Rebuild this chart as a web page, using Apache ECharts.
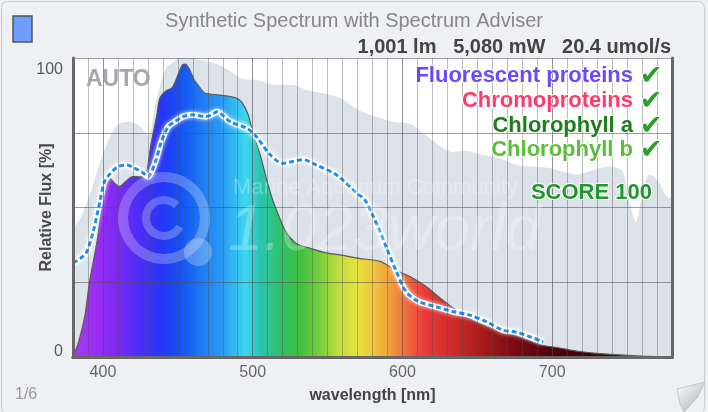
<!DOCTYPE html>
<html>
<head>
<meta charset="utf-8">
<script src="https://cdn.jsdelivr.net/npm/echarts@6/dist/echarts.min.js"></script>
<style>
  html, body { margin: 0; padding: 0; background: #fff; }
  #chart { width: 708px; height: 412px; }
</style>
</head>
<body>
<div id="chart"></div>
<script>
// synthetic spectrum (coloured area)
var specNm = [380, 384, 388, 391, 396, 399, 401, 404, 408, 411, 415, 420, 426, 429, 432, 436, 438, 442, 446, 449,
    453, 455, 458, 461, 465, 468, 478, 489, 493, 497, 500, 505, 509, 513, 518, 522, 529, 538, 549, 560,
    571, 585, 593, 600, 605, 616, 627, 638, 649, 660, 669, 678, 685, 693, 705, 716, 730, 745, 760, 780];
var specVal = [0, 5.5, 14, 25, 38.6, 50, 57.5, 60, 58, 57, 58.6, 60.3, 60.3, 61.5, 71, 81, 86.6, 89, 90, 93,
    97.7, 98, 96, 92.6, 90, 88.3, 87.6, 86.6, 85, 81, 75.4, 67.6, 60, 53, 46.5, 42, 38, 36.4, 34.8, 34,
    33, 32, 29.8, 28, 26.9, 23.5, 19, 15, 11.8, 9.7, 8.5, 6.8, 5.5, 4, 3, 2, 1.2, 0.7, 0.3, 0];

// spectrum adviser target (dashed line)
var targetNm = [380, 385, 389, 393.5, 398, 401, 405, 410, 416, 421, 427, 430, 435, 439, 443.5, 448, 453.5, 460, 469, 474,
    476, 485, 496, 502.5, 511, 520, 533.5, 542.5, 556, 569, 575, 580, 585, 589, 596, 602.5, 611, 622.5, 633.5, 645,
    656, 667, 676, 684, 694];
var targetVal = [31.4, 33, 35, 42, 52, 58.6, 61.4, 63.7, 64.2, 63.2, 61.5, 60.3, 65.3, 72, 77, 78.7, 80.4, 81, 80.4, 81.5,
    82, 78.7, 76.5, 73.7, 68, 64.8, 66, 64.2, 60.9, 55, 52.5, 47.5, 42, 37, 28.5, 21.8, 18.5, 16.8, 15.2, 14,
    11.8, 9, 8.3, 7, 5.1];

// grey background reference
var refNm = [380, 385, 391, 398, 405, 411, 418, 425, 430, 436, 442, 447, 451, 458, 465, 476, 487, 493, 503, 516,
    526, 538, 550, 560, 571, 582, 593, 605, 616, 627, 633, 642, 653, 665, 676, 685, 698, 707, 716, 727,
    738, 747, 751, 756, 760, 765, 771, 776, 780];
var refVal = [43, 46.5, 54, 65, 74, 78, 78.7, 77, 74, 86.5, 96.5, 98.7, 100, 100, 99.3, 98, 95, 93, 92.6, 91,
    91, 89, 88, 86.3, 82.5, 80.4, 78.7, 78, 74, 70, 68.6, 69, 67.6, 66.4, 64.2, 63.7, 63.2, 62, 61, 62.5,
    63.7, 62, 53, 45.2, 54, 61, 58.6, 54, 53];

// colour of light per wavelength
var colorNm = [380, 395, 410, 425, 440, 452, 465, 480, 495, 505, 520, 532, 545, 558, 570, 582, 593, 603, 615, 635, 655, 675, 700, 780];
var colorHex = ['#a63cf2', '#9a2ef2', '#7a2af4', '#4a2ef6', '#2438f6', '#1452f4', '#1f78f0', '#2a9cf2', '#3ed6f0', '#2cc4b0',
    '#32c064', '#40c040', '#7ace3c', '#c4dc40', '#e6e23e', '#f0c03c', '#f09a3c', '#f0683c', '#e83a3a', '#cc2a2a', '#a41a1a', '#7a0c12', '#4c0208', '#2e0006'];

var xTicks = [400, 500, 600, 700];
var yTicks = [0, 100];

function pairs(xs, ys) {
    var out = [];
    for (var i = 0; i < xs.length; i++) out.push([xs[i], ys[i]]);
    return out;
}

var stops = colorNm.map(function (nm, i) {
    return { offset: (nm - 380) / 400, color: colorHex[i] };
});

var minorCol = 'rgba(80,80,80,0.38)';
var majorCol = 'rgba(80,80,80,0.62)';
var splitColors = [];
for (var i = 0; i < 10; i++) splitColors.push(i === 2 ? majorCol : minorCol);

var chart = echarts.init(document.getElementById('chart'));
var font = '"Liberation Sans", Arial, sans-serif';

function label(text, y, color) {
    return { type: 'text', x: 633, y: y, style: { text: text, fill: color, font: 'bold 22px ' + font, align: 'right', verticalAlign: 'middle', stroke: '#fff', lineWidth: 2 }, z: 10 };
}
function tick(y) {
    return { type: 'text', x: 651, y: y, style: { text: '✔', fill: '#2a9e2a', font: 'bold 27px "DejaVu Sans"', align: 'center', verticalAlign: 'middle', stroke: '#fff', lineWidth: 2 }, z: 10 };
}

var option = {
    backgroundColor: '#eef0f3',
    animation: false,
    title: [{
        text: 'Synthetic Spectrum with Spectrum Adviser',
        left: 'center',
        top: 6,
        textStyle: { color: '#878787', fontSize: 20, fontWeight: 'normal', fontFamily: font }
    }, {
        text: '1,001 lm   5,080 mW   20.4 umol/s',
        right: 32,
        top: 32,
        textStyle: { color: '#444', fontSize: 20, fontWeight: 'bold', fontFamily: font }
    }],
    grid: {
        left: 73, top: 58, width: 599, height: 299,
        show: true, backgroundColor: '#ffffff', borderWidth: 0
    },
    xAxis: [{
        type: 'value', min: 380, max: 780, interval: 10, z: 5,
        name: 'wavelength [nm]', nameLocation: 'middle', nameGap: 31,
        nameTextStyle: { color: '#444', fontSize: 16, fontWeight: 'bold', fontFamily: font },
        axisLine: { show: true, lineStyle: { color: '#676767', width: 3 } },
        axisTick: { show: false },
        axisLabel: {
            margin: 8, color: '#666', fontSize: 16, fontFamily: font,
            formatter: function (v) { return xTicks.indexOf(v) >= 0 ? String(v) : ''; }
        },
        splitLine: { show: true, lineStyle: { color: splitColors, width: 1 } }
    }, {
        type: 'value', min: 380, max: 780, position: 'top', z: 5,
        axisLine: { show: true, lineStyle: { color: '#676767', width: 3 } },
        axisTick: { show: false }, axisLabel: { show: false }, splitLine: { show: false }
    }],
    yAxis: [{
        type: 'value', min: 0, max: 100, interval: 25, z: 5,
        name: 'Relative Flux [%]', nameLocation: 'middle', nameGap: 18, nameMoveOverlap: false,
        nameTextStyle: { color: '#4a4a4a', fontSize: 16, fontWeight: 'bold', fontFamily: font },
        axisLine: { show: true, lineStyle: { color: '#676767', width: 3 } },
        axisTick: { show: false },
        axisLabel: {
            margin: 10, color: '#5a5a5a', fontSize: 16, fontFamily: font,
            formatter: function (v) {
                if (v === yTicks[1]) return '{t|' + v + '}';
                if (v === yTicks[0]) return '{b|' + v + '}';
                return '';
            },
            rich: {
                t: { padding: [24, 0, 0, 0], color: '#5a5a5a', fontSize: 16, fontFamily: font },
                b: { padding: [0, 0, 10, 0], color: '#5a5a5a', fontSize: 16, fontFamily: font }
            }
        },
        splitLine: { show: true, lineStyle: { color: 'rgba(80,80,80,0.55)', width: 1 } }
    }, {
        type: 'value', min: 0, max: 100, position: 'right', z: 5,
        axisLine: { show: true, lineStyle: { color: '#676767', width: 3 } },
        axisTick: { show: false }, axisLabel: { show: false }, splitLine: { show: false }
    }],
    series: [{
        name: 'reference',
        type: 'line',
        z: 1,
        smooth: 0.3,
        symbol: 'none',
        lineStyle: { width: 0 },
        areaStyle: { color: '#dce2ea', opacity: 1 },
        data: pairs(refNm, refVal)
    }, {
        name: 'spectrum',
        type: 'line',
        z: 2,
        smooth: 0.3,
        symbol: 'none',
        lineStyle: { color: '#5a5a5a', width: 1.2 },
        areaStyle: { color: new echarts.graphic.LinearGradient(0, 0, 1, 0, stops), opacity: 1 },
        data: pairs(specNm, specVal)
    }, {
        name: 'target glow',
        type: 'line',
        z: 3,
        smooth: 0.3,
        symbol: 'none',
        lineStyle: { color: 'rgba(255,255,255,0.9)', width: 6, shadowBlur: 4, shadowColor: 'rgba(255,255,255,0.9)' },
        data: pairs(targetNm, targetVal)
    }, {
        name: 'target',
        type: 'line',
        z: 3,
        smooth: 0.3,
        symbol: 'none',
        lineStyle: { color: '#1e8ff0', width: 3, type: [5, 3] },
        data: pairs(targetNm, targetVal)
    }],
    graphic: [
        // card outline
        { type: 'rect', shape: { x: 1.5, y: 1.5, width: 703, height: 412, r: 6 }, style: { fill: null, stroke: '#c9cdd2', lineWidth: 1 }, z: 0 },
        // colour swatch
        { type: 'rect', shape: { x: 13, y: 16, width: 19, height: 26 }, style: { fill: '#6f9cff', stroke: '#555', lineWidth: 1.5 }, z: 10 },
        // watermark
        { type: 'ring', shape: { cx: 164, cy: 218, r: 46, r0: 36 }, style: { fill: 'rgba(255,255,255,0.25)' }, z: 6 },
        { type: 'circle', shape: { cx: 198, cy: 252, r: 14 }, style: { fill: 'rgba(255,255,255,0.25)' }, z: 6 },
        { type: 'arc', shape: { cx: 164, cy: 218, r: 18, startAngle: 0.5, endAngle: 5.5 }, style: { stroke: 'rgba(255,255,255,0.25)', lineWidth: 8, fill: null }, z: 6 },
        { type: 'text', x: 233, y: 188, style: { text: 'Marine Aquarium Community', fill: 'rgba(255,255,255,0.28)', font: '22px ' + font, verticalAlign: 'middle' }, z: 6 },
        { type: 'text', x: 228, y: 232, style: { text: '1.023world', fill: 'rgba(255,255,255,0.25)', font: 'italic 64px ' + font, verticalAlign: 'middle' }, z: 6 },
        // overlay texts
        { type: 'text', x: 86, y: 80, style: { text: 'AUTO', fill: '#a2a8ae', font: 'bold 23px ' + font, verticalAlign: 'middle' }, z: 10 },
        label('Fluorescent proteins', 76, '#6b48ff'),
        label('Chromoproteins', 101, '#ff3a6a'),
        label('Chlorophyll a', 126, '#1c7f1c'),
        label('Chlorophyll b', 150, '#5cbd3a'),
        tick(77), tick(102), tick(127), tick(151),
        { type: 'text', x: 652, y: 193, style: { text: 'SCORE 100', fill: '#22962a', font: 'bold 22px ' + font, align: 'right', verticalAlign: 'middle', stroke: '#fff', lineWidth: 2 }, z: 10 },
        // page number and page curl
        { type: 'text', x: 15, y: 395, style: { text: '1/6', fill: '#9a9a9a', font: '16px ' + font, verticalAlign: 'middle' }, z: 10 },
        {
            type: 'polygon', shape: { points: [[677, 389], [705, 382], [697, 398], [684, 412], [680, 404]] },
            style: {
                fill: new echarts.graphic.LinearGradient(0, 0, 1, 1, [{ offset: 0, color: '#ffffff' }, { offset: 1, color: '#a9adb2' }]),
                stroke: '#b8bcc0', lineWidth: 0.8
            }, z: 10
        }
    ]
};

chart.setOption(option);
</script>
</body>
</html>
